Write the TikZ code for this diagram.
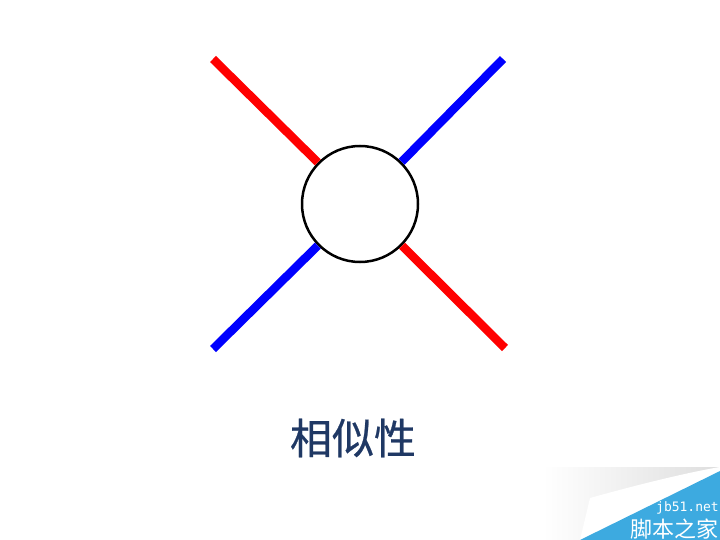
\documentclass[tikz,border=0pt]{standalone}
\usepackage{fontspec}
\newfontfamily\cjk{Noto Sans CJK SC}
\newfontfamily\cjkheavy[FakeBold=0.6]{Noto Sans CJK SC}
\newfontfamily\wmmono{DejaVu Sans Mono}
\definecolor{titleblue}{RGB}{31,56,100}
\definecolor{wmblue}{RGB}{61,170,224}
\definecolor{wmgray}{RGB}{222,222,222}
\begin{document}
\begin{tikzpicture}[x=1pt,y=-1pt,
  redbar/.style={draw=red,line width=8.5pt},
  bluebar/.style={draw=blue,line width=8.5pt},
  hub/.style={circle,draw=black,line width=2.5pt,fill=white,minimum size=116pt,inner sep=0pt}]
\useasboundingbox (0,0) rectangle (720,540);
\fill[white] (0,0) rectangle (720,540);
% watermark
\shade[left color=white,right color=wmgray] (543,467) rectangle (720,540);
\fill[white] (590,498) .. controls (640,484) and (690,472) .. (720,467) -- (720,540) -- (580,540) -- cycle;
\fill[wmblue] (580,540) -- (720,471) -- (720,540) -- cycle;
\node[text=white,font=\wmmono\fontsize{13}{13}\selectfont,anchor=east,inner sep=0pt] (wm1) at (719,508) {jb51.net};
\node[text=white,font=\cjk\fontsize{22}{22}\selectfont,anchor=east,inner sep=0pt] (wm2) at (719,529) {脚本之家};
% diagram
\node[hub] (c) at (360,204) {};
\coordinate (tl) at (213,59);
\coordinate (tr) at (503,59);
\coordinate (bl) at (213,349);
\coordinate (br) at (505,348);
\draw[redbar] (tl) -- (c);
\draw[bluebar] (tr) -- (c);
\draw[bluebar] (bl) -- (c);
\draw[redbar] (br) -- (c);
\node[text=titleblue,font=\cjkheavy\fontsize{42}{42}\selectfont,inner sep=0pt] (title) at (353,438) {相似性};
\end{tikzpicture}
\end{document}
